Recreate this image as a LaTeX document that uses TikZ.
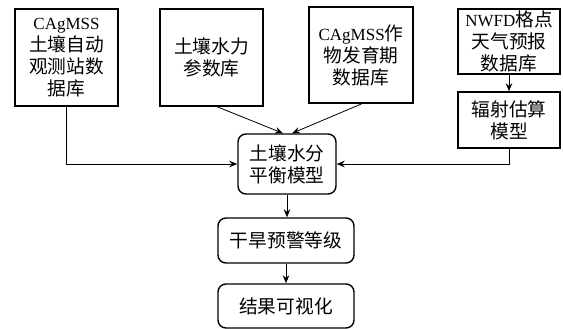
\documentclass[tikz,border=0pt]{standalone}
\usepackage{fontspec}
\setmainfont{Liberation Serif}
\newfontfamily\cjk[Scale=1.1]{Noto Sans CJK SC}
\usetikzlibrary{arrows.meta}
\begin{document}
\begin{tikzpicture}[x=1pt,y=-1pt,
  txt/.style={font=\fontsize{17}{22}\selectfont, align=center, inner sep=0pt},
  sqbox/.style={txt, draw, line width=1.4pt},
  rdbox/.style={txt, draw, line width=1.4pt, rounded corners=8pt},
  conn/.style={line width=0.8pt, -{Stealth[length=8pt,width=6.5pt]}}]
\useasboundingbox (0,0) rectangle (563,329);
\node[sqbox, minimum width=103pt, minimum height=97pt] (b1) at (66.5,57.5) {CAgMSS\\{\cjk 土壤自动}\\{\cjk 观测站数}\\{\cjk 据库}};
\node[sqbox, minimum width=103pt, minimum height=97pt] (b2) at (211.5,57.5) {{\cjk 土壤水力}\\{\cjk 参数库}};
\node[sqbox, minimum width=104pt, minimum height=96pt] (b3) at (361,55) {CAgMSS{\cjk 作}\\{\cjk 物发育期}\\{\cjk 数据库}};
\node[sqbox, minimum width=102pt, minimum height=65pt] (b4) at (509,41.5) {NWFD{\cjk 格点}\\{\cjk 天气预报}\\{\cjk 数据库}};
\node[sqbox, minimum width=102pt, minimum height=56pt] (b5) at (509,120) {{\cjk 辐射估算}\\{\cjk 模型}};
\node[rdbox, minimum width=98pt, minimum height=60pt] (c) at (287,164) {{\cjk 土壤水分}\\{\cjk 平衡模型}};
\node[rdbox, minimum width=136pt, minimum height=45pt] (d) at (286,240.5) {{\cjk 干旱预警等级}};
\node[rdbox, minimum width=136pt, minimum height=44pt] (e) at (286,306) {{\cjk 结果可视化}};
\draw[conn] (b1.south) |- (c.west);
\draw[conn] (b5.south) |- (c.east);
\draw[conn] ([xshift=5.5pt]b2.south) -- ([xshift=-4pt]c.north);
\draw[conn] ([xshift=1pt]b3.south) -- ([xshift=5pt]c.north);
\draw[conn] (b4.south) -- (b5.north);
\draw[conn] (c.south) -- (c.south |- d.north);
\draw[conn] (d.south) -- (e.north);
\end{tikzpicture}
\end{document}
